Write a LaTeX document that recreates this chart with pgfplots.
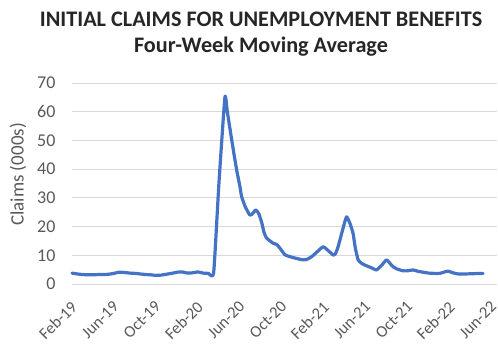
\documentclass[border=0pt]{standalone}
\usepackage{fontspec}
\setmainfont{Carlito}
\usepackage{pgfplots}
\pgfplotsset{compat=1.18}
\definecolor{lineblue}{RGB}{68,114,196}
\definecolor{gridgray}{RGB}{217,217,217}
\definecolor{txtgray}{RGB}{89,89,89}
\begin{document}
\begin{tikzpicture}
\begin{axis}[
  name=ax,
  scale only axis,
  width=425pt, height=201pt,
  xmin=0, xmax=40.5, ymin=0, ymax=70,
  axis line style={draw=none},
  axis x line*=bottom,
  ymajorgrids, grid style={gridgray, line width=0.8pt},
  ytick={0,10,...,70},
  xtick={0,4,...,40},
  xticklabels={Feb-19,Jun-19,Oct-19,Feb-20,Jun-20,Oct-20,Feb-21,Jun-21,Oct-21,Feb-22,Jun-22},
  x tick label style={yshift=-16pt, xshift=-2pt, rotate=45, anchor=north east, font=\fontsize{16.5}{18}\selectfont, text=txtgray, inner sep=0pt},
  y tick label style={font=\fontsize{18}{20}\selectfont, text=txtgray, xshift=-13pt},
  /pgf/number format/assume math mode=true,
  major tick length=0pt,
  ylabel={Claims (000s)},
  every axis y label/.style={at={(axis description cs:0,0.5)}, xshift=-54pt, yshift=9pt, rotate=90, anchor=center, font=\fontsize{19}{21}\selectfont, text=txtgray},
  clip=false,
]
\draw[gridgray, line width=0.8pt] (axis cs:0,0) -- (axis cs:40.5,0);
\addplot[lineblue, line width=3.2pt, line join=round, line cap=round, smooth, tension=0.3] coordinates {
(0,3.8) (0.5,3.5) (1,3.3) (1.5,3.2) (2,3.2) (2.5,3.3) (3,3.3) (3.5,3.4) (4,3.7)
(4.5,4.1) (5,4.0) (5.5,3.8) (6,3.7) (6.5,3.5) (7,3.3) (7.5,3.2) (8,3.0) (8.5,3.1)
(9,3.4) (9.5,3.7) (10,4.1) (10.5,4.2) (11,3.8) (11.5,3.9) (12,4.2) (12.5,3.8)
(13,3.7) (13.5,4.0) (14.0,35) (14.57,65) (14.8,60) (15.1,53) (15.36,47) (15.69,39.7)
(16.0,34) (16.16,30.5) (16.5,27) (16.95,24) (17.2,24.5) (17.52,25.8) (17.8,24.5)
(18.07,21.5) (18.3,18) (18.54,16) (19.17,14.2) (19.5,13.8) (19.81,12.5) (20.29,10.2)
(20.7,9.6) (21.08,9.2) (21.5,8.8) (22.03,8.4) (22.4,8.6) (22.83,9.5) (23.3,11)
(23.93,13) (24.3,12) (24.89,10.1) (25.1,10.5) (25.36,13) (25.8,19) (26.16,23.4)
(26.5,21) (26.79,17.5) (27.0,12.5) (27.27,8.4) (27.6,7.2) (27.9,6.6) (28.5,5.7)
(29.02,4.9) (29.5,6.5) (29.97,8.4) (30.3,7.2) (30.6,6) (31.0,5.2) (31.55,4.6)
(32,4.6) (32.5,4.9) (33,4.4) (33.46,4.1) (34,3.8) (34.5,3.7) (35.05,3.7) (35.5,4.2)
(35.84,4.5) (36.3,3.9) (36.79,3.5) (37.5,3.5) (38.3,3.6) (39.17,3.7)
};
\end{axis}
\node[font=\bfseries\fontsize{22.2}{26}\selectfont, text=black!85, align=center, anchor=north, inner sep=0pt]
  at ([xshift=189pt, yshift=83pt-12pt]ax.north west) {INITIAL CLAIMS FOR UNEMPLOYMENT BENEFITS\\Four-Week Moving Average};
\pgfresetboundingbox
\path (ax.south west) ++(-72pt,-62pt) rectangle ++(498pt,346pt);
\end{tikzpicture}
\end{document}
